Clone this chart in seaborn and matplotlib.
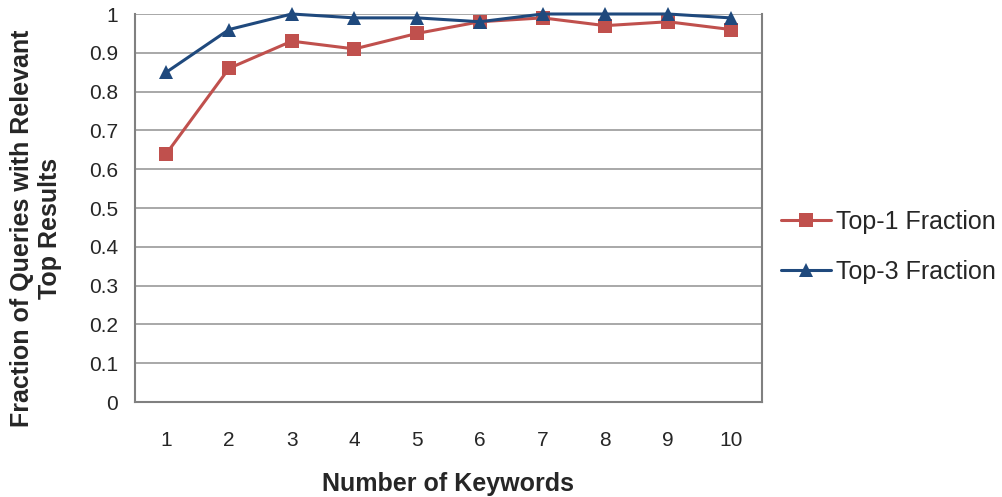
import pandas as pd
import numpy as np
import matplotlib
matplotlib.use("Agg")
import matplotlib.pyplot as plt
import seaborn as sns

# values
keywords = [1, 2, 3, 4, 5, 6, 7, 8, 9, 10]
top1 = [0.64, 0.86, 0.93, 0.91, 0.95, 0.98, 0.99, 0.97, 0.98, 0.96]
top3 = [0.85, 0.96, 1.00, 0.99, 0.99, 0.98, 1.00, 1.00, 1.00, 0.99]
series_names = ["Top-1 Fraction", "Top-3 Fraction"]
y_ticks = [0, 0.1, 0.2, 0.3, 0.4, 0.5, 0.6, 0.7, 0.8, 0.9, 1]
y_tick_labels = ["0", "0.1", "0.2", "0.3", "0.4", "0.5", "0.6", "0.7", "0.8", "0.9", "1"]

df = pd.DataFrame({"Keywords": keywords * 2,
                   "Fraction": top1 + top3,
                   "Series": [series_names[0]] * 10 + [series_names[1]] * 10})

sns.set_style("white")
plt.rcParams['font.family'] = ['Liberation Sans', 'DejaVu Sans']

fig = plt.figure(figsize=(10.03, 4.97), dpi=100)
ax = fig.add_axes([135 / 1003, 1 - 402 / 497, (762 - 135) / 1003, (402 - 14) / 497])

colors = {"Top-1 Fraction": "#c0504d", "Top-3 Fraction": "#1f497d"}
sns.lineplot(data=df, x="Keywords", y="Fraction", hue="Series", style="Series",
             markers={"Top-1 Fraction": "s", "Top-3 Fraction": "^"}, dashes=False,
             palette=colors, linewidth=2.2, markersize=10, markeredgewidth=0,
             ax=ax, zorder=3, clip_on=False)

ax.set_xlim(0.5, 10.5)
ax.set_ylim(0, 1)
ax.set_yticks(y_ticks)
ax.set_yticklabels(y_tick_labels)
ax.set_xticks(keywords)
ax.set_xticklabels([str(k) for k in keywords])
ax.yaxis.grid(True, color="#9a9a9a", linewidth=1.2)
ax.set_axisbelow(True)

for side in ["left", "bottom", "right"]:
    ax.spines[side].set_color("#808080")
    ax.spines[side].set_linewidth(1.5)
ax.spines["top"].set_visible(False)

ax.tick_params(axis="y", length=7, width=1.2, color="#808080", labelsize=15, pad=5)
ax.tick_params(axis="x", length=0, labelsize=15, pad=21)

ax.set_xlabel("Number of Keywords", fontsize=18, fontweight="bold", va="center")
ax.xaxis.set_label_coords(0.5, (402 - 484) / 388)
ax.set_ylabel("Fraction of Queries with Relevant\nTop Results", fontsize=18,
              fontweight="bold", linespacing=1.2, va="center")
ax.yaxis.set_label_coords((36 - 135) / 627, (402 - 228) / 388)

leg = ax.legend(loc="center left", bbox_to_anchor=(781 / 1003, 1 - 247 / 497),
                bbox_transform=fig.transFigure, frameon=False, borderaxespad=0,
                borderpad=0, fontsize=18, handlelength=2.0, handletextpad=0.2,
                labelspacing=1.05)

fig.savefig("out.png", dpi=100)
